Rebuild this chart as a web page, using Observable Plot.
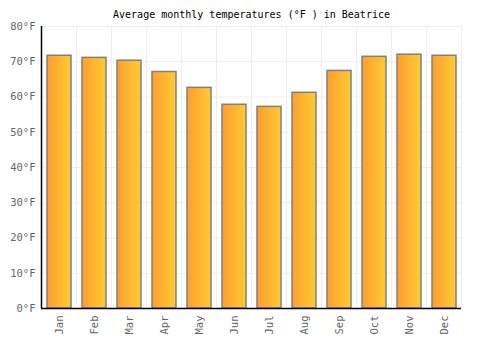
<!DOCTYPE html>
<html>
<head>
<meta charset="utf-8">
<script src="https://cdn.jsdelivr.net/npm/d3@7"></script>
<script src="https://cdn.jsdelivr.net/npm/@observablehq/plot@0.6"></script>
<style>
  html, body { margin: 0; padding: 0; background: #fff; }
  #chart { width: 500px; height: 350px; }
</style>
</head>
<body>
<div id="chart"></div>
<script>
const months = ["Jan","Feb","Mar","Apr","May","Jun","Jul","Aug","Sep","Oct","Nov","Dec"];
const temps = [71.7, 71.1, 70.3, 67.1, 62.6, 57.8, 57.2, 61.2, 67.4, 71.4, 72.0, 71.7];
const yTicks = [0, 10, 20, 30, 40, 50, 60, 70, 80];
const title = "Average monthly temperatures (°F ) in Beatrice";

const data = months.map((m, i) => ({month: m, temp: temps[i]}));
const font = "DejaVu Sans Mono, monospace";

const plot = Plot.plot({
  width: 500,
  height: 350,
  marginLeft: 41,
  marginRight: 39,
  marginTop: 26,
  marginBottom: 42,
  style: {fontFamily: font, fontSize: "10px", background: "#fff"},
  x: {domain: months, paddingInner: 0.32, paddingOuter: 0.16, label: null},
  y: {domain: [0, 80], label: null},
  marks: [
    Plot.gridY(yTicks, {stroke: "#eeeeee", strokeOpacity: 1, strokeWidth: 1}),
    Plot.barY(data, {
      x: "month", y: "temp",
      fill: "url(#barGrad)",
      stroke: "#808080",
      strokeWidth: 1.5
    }),
    Plot.axisY(yTicks, {
      tickSize: 0, tickPadding: 6,
      tickFormat: d => d + "°F",
      fill: "#666", fontSize: 10.5, fontFamily: font
    }),
    Plot.axisX({
      tickSize: 0, tickPadding: 7, tickRotate: -90,
      fill: "#666", fontSize: 10.5, fontFamily: font
    }),
    Plot.ruleY([0], {stroke: "#000", strokeWidth: 1.5}),
    Plot.text([title], {
      frameAnchor: "top", dy: -16, fontSize: 10, fill: "#000", fontFamily: font
    })
  ]
});

// Vertical grid lines at band boundaries and left axis line, from the plot's own x scale
const svg = d3.select(plot);
const xs = plot.scale("x");
const ys = plot.scale("y");
const step = xs.step;
const bw = xs.bandwidth;
const left = xs.apply(months[0]) - (step - bw) / 2;
const y0 = ys.apply(0), y1 = ys.apply(80);

const defs = svg.insert("defs", ":first-child");
const g = defs.append("linearGradient").attr("id", "barGrad")
  .attr("x1", "0%").attr("x2", "100%").attr("y1", "0%").attr("y2", "0%");
g.append("stop").attr("offset", "0%").attr("stop-color", "#ff9e2f");
g.append("stop").attr("offset", "100%").attr("stop-color", "#ffcb33");

const barG = plot.querySelector("g[aria-label='bar']");
const grid = d3.create("svg:g").attr("stroke", "#eeeeee");
months.forEach((m) => {
  const bx = xs.apply(m) - (step - bw) / 2 + step;
  grid.append("line").attr("x1", bx).attr("x2", bx).attr("y1", y1).attr("y2", y0);
});
plot.insertBefore(grid.node(), barG);
svg.append("line").attr("x1", left).attr("x2", left).attr("y1", y1).attr("y2", y0)
  .attr("stroke", "#000").attr("stroke-width", 1.5);

document.getElementById("chart").appendChild(plot);
</script>
</body>
</html>
